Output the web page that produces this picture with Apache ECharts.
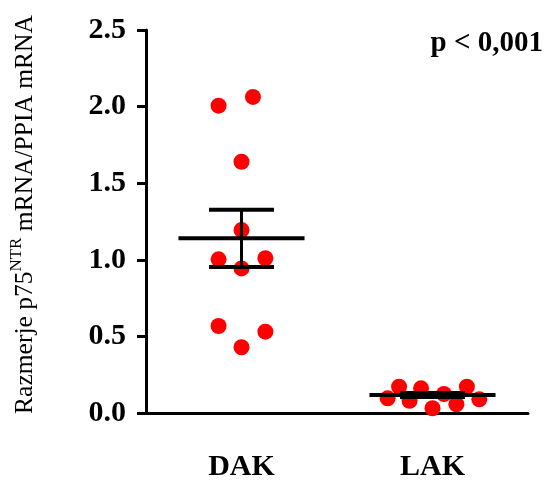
<!DOCTYPE html>
<html>
<head>
<meta charset="utf-8">
<script src="https://cdn.jsdelivr.net/npm/echarts@6/dist/echarts.min.js"></script>
<style>
html,body{margin:0;padding:0;background:#fff;}
#chart{width:547px;height:482px;}
</style>
</head>
<body>
<div id="chart"></div>
<script>
const categories = ['DAK', 'LAK'];
const dakValues = [2.006, 2.063, 1.640, 1.194, 1.003, 1.010, 0.944, 0.568, 0.531, 0.429];
const dakJitter = [-0.12, 0.06, 0, 0, -0.12, 0.125, 0, -0.12, 0.125, 0];
const lakValues = [0.096, 0.172, 0.080, 0.161, 0.031, 0.124, 0.057, 0.172, 0.089];
const lakJitter = [-0.235, -0.175, -0.12, -0.06, 0, 0.06, 0.125, 0.18, 0.245];
const means = [1.14, 0.117];
const sems = [0.187, 0.013];
const yTicks = [0, 0.5, 1.0, 1.5, 2.0, 2.5];
const pText = 'p < 0,001';

const FONT = "'Liberation Serif', 'Times New Roman', serif";

function pts(values, jitter, idx) {
  return values.map((v, i) => [idx + 1 + jitter[i], v]);
}

const chart = echarts.init(document.getElementById('chart'), null, {renderer: 'canvas'});
chart.setOption({
  animation: false,
  backgroundColor: '#fff',
  grid: {left: 145, right: 19, top: 30, bottom: 69, containLabel: false},
  xAxis: [{
    type: 'category',
    data: categories,
    boundaryGap: true,
    axisLine: {lineStyle: {color: '#000', width: 3}},
    axisTick: {alignWithLabel: true, length: 10, lineStyle: {color: '#000', width: 3}},
    axisLabel: {color: '#000', fontFamily: FONT, fontWeight: 'bold', fontSize: 30, margin: 39},
    splitLine: {show: false}
  }, {
    type: 'value',
    min: 0.5, max: 2.5,
    show: false
  }],
  yAxis: {
    type: 'value',
    min: yTicks[0], max: yTicks[yTicks.length - 1], interval: 0.5,
    axisLine: {show: true, lineStyle: {color: '#000', width: 3}},
    axisTick: {show: true, length: 9, lineStyle: {color: '#000', width: 3}},
    axisLabel: {color: '#000', fontFamily: FONT, fontWeight: 'bold', fontSize: 30, margin: 20,
      formatter: v => v.toFixed(1)},
    splitLine: {show: false},
    name: '{a|Razmerje p75}{sup|NTR}{a| mRNA/PPIA mRNA}',
    nameLocation: 'middle',
    nameRotate: 90,
    nameGap: 108,
    nameTextStyle: {
      padding: [0, 0, 0, 14],
      rich: {
        a: {fontFamily: FONT, fontSize: 25.5, color: '#000', lineHeight: 30, verticalAlign: 'bottom'},
        sup: {fontFamily: FONT, fontSize: 17, color: '#000', lineHeight: 30, verticalAlign: 'top'}
      }
    }
  },
  graphic: [{
    type: 'text',
    right: 4,
    top: 29,
    style: {text: pText, fontFamily: FONT, fontWeight: 'bold', fontSize: 29, fill: '#000'}
  }],
  series: [{
    type: 'scatter',
    xAxisIndex: 1,
    data: pts(dakValues, dakJitter, 0),
    symbolSize: 16,
    itemStyle: {color: '#ff0000', opacity: 1},
    z: 2
  }, {
    type: 'scatter',
    xAxisIndex: 1,
    data: pts(lakValues, lakJitter, 1),
    symbolSize: 16,
    itemStyle: {color: '#ff0000', opacity: 1},
    z: 2
  }, {
    type: 'custom',
    xAxisIndex: 1,
    z: 5,
    data: means.map((m, i) => [i + 1, m, sems[i]]),
    renderItem: function (params, api) {
      const x = api.value(0), m = api.value(1), s = api.value(2);
      const L = (a, b, w) => ({type: 'line', shape: {x1: a[0], y1: a[1], x2: b[0], y2: b[1]},
        style: {stroke: '#000', lineWidth: w}});
      return {type: 'group', children: [
        L(api.coord([x, m - s]), api.coord([x, m + s]), 3),
        L(api.coord([x - 0.17, m + s]), api.coord([x + 0.17, m + s]), 4),
        L(api.coord([x - 0.17, m - s]), api.coord([x + 0.17, m - s]), 4),
        L(api.coord([x - 0.33, m]), api.coord([x + 0.33, m]), 4)
      ]};
    }
  }]
});
</script>
</body>
</html>
